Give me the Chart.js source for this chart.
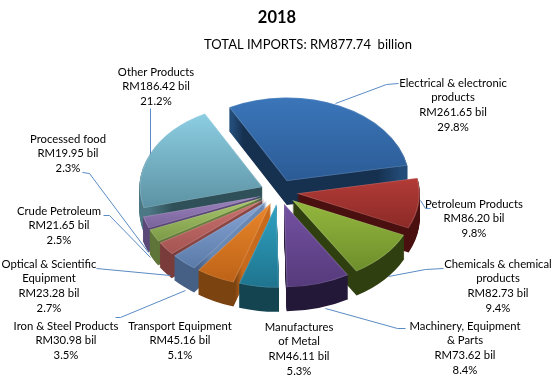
<!DOCTYPE html>
<html><head><meta charset="utf-8">
<style>html,body{margin:0;padding:0;background:#fff}canvas{display:block}</style>
<script src="https://cdn.jsdelivr.net/npm/chart.js@4"></script>
</head><body>
<canvas id="c" width="554" height="376"></canvas>
<script>
const categories = ["Electrical & electronic products","Petroleum Products","Chemicals & chemical products","Machinery, Equipment & Parts","Manufactures of Metal","Transport Equipment","Iron & Steel Products","Optical & Scientific Equipment","Crude Petroleum","Processed food","Other Products"];
const values = [261.65,86.20,82.73,73.62,46.11,45.16,30.98,23.28,21.65,19.95,186.42];
const shares = ["29.8%","9.8%","9.4%","8.4%","5.3%","5.1%","3.5%","2.7%","2.5%","2.3%","21.2%"];
const titleText = "2018";
const subtitleText = "TOTAL IMPORTS: RM877.74  billion";

const lightColors = ["#3b76ba","#b23b37","#95b83f","#7451a2","#2fa2c2","#ea862b","#88a6d6","#ca7370","#aac86e","#9c84bf","#8dcee3"];
const darkColors  = ["#2b5b95","#8b2a27","#6d8e2b","#553a7b","#1f748e","#bd6317","#5a7aa8","#a45452","#7c9947","#79639a","#5c92a3"];
const sideInner   = ["#16304f","#4a1010","#303f10","#241839","#1a6076","#c8691c","#6a88b4","#8a4644","#66803c","#5a4878","#2f5058"];
const sideOuter   = ["#234c78","#4a1010","#303f10","#241839","#134450","#7a4310","#465f85","#7a3c3a","#5e7438","#5a4878","#4c7784"];

const labelLines = [
 ["Electrical & electronic","products","RM261.65 bil","29.8%"],
 ["Petroleum Products","RM86.20 bil","9.8%"],
 ["Chemicals & chemical","products","RM82.73 bil","9.4%"],
 ["Machinery, Equipment","& Parts","RM73.62 bil","8.4%"],
 ["Manufactures","of Metal","RM46.11 bil","5.3%"],
 ["Transport Equipment","RM45.16 bil","5.1%"],
 ["Iron & Steel Products","RM30.98 bil","3.5%"],
 ["Optical & Scientific","Equipment","RM23.28 bil","2.7%"],
 ["Crude Petroleum","RM21.65 bil","2.5%"],
 ["Processed food","RM19.95 bil","2.3%"],
 ["Other Products","RM186.42 bil","21.2%"]
];
const labelCentreX = [453,474,498,465,299,180,66,49,59,68,156];
const labelTopY = [83,204,264,326,327,326,326,264,211,139,72];
const leaders = [
 [[398,83],[386,84],[335,103]],
 [[430,208],[425,208],[420,200]],
 [[443,268],[425,269],[388,276]],
 [[405,328],[397,328],[325,308]],
 [], [],
 [[115,317],[120,317],[185,290]],
 [[96,268],[170,275]],
 [[103,215],[109,215],[150,257]],
 [[82,172],[89,173],[148,252]],
 [[150,154],[150,108]]
];
const pieCentre = {x:279,y:192}, squash = 0.68, depth = 24, pieRadius = 123, explode = 18;
const fontFamily = "Lato, 'Open Sans', sans-serif";

function sliceYExtent(a){
  const pts=[a.y,a.y+Math.sin(a.startAngle)*a.outerRadius,a.y+Math.sin(a.endAngle)*a.outerRadius];
  const has=t=>{let s=a.startAngle,e=a.endAngle;while(t<s)t+=2*Math.PI;return t<=e;};
  if(has(Math.PI/2))pts.push(a.y+a.outerRadius);
  if(has(-Math.PI/2))pts.push(a.y-a.outerRadius);
  return [Math.min(...pts),Math.max(...pts)];
}
const pie3d = {
  id:'pie3d',
  beforeDatasetDraw(chart,args){
    const ctx=chart.ctx, arcs=args.meta.data;
    const order=arcs.map((a,i)=>i).sort((p,q)=>{
      const m=i=>Math.sin((arcs[i].startAngle+arcs[i].endAngle)/2);
      return m(p)-m(q);
    });
    const place=(a,dy)=>{
      const mid=(a.startAngle+a.endAngle)/2;
      ctx.translate(pieCentre.x,pieCentre.y+dy);
      ctx.scale(1,squash);
      ctx.translate(Math.cos(mid)*explode-a.x,Math.sin(mid)*explode-a.y);
    };
    order.forEach(i=>{
      const a=arcs[i], o=a.options;
      const w=ctx.createRadialGradient(a.x,a.y,0,a.x,a.y,a.outerRadius);
      w.addColorStop(0,sideInner[i]);w.addColorStop(0.75,sideInner[i]);w.addColorStop(0.95,sideOuter[i]);w.addColorStop(1,sideOuter[i]);
      a.options=Object.assign({},o,{backgroundColor:w,borderWidth:0});
      for(let d=depth;d>=1;d--){ctx.save();place(a,d);a.draw(ctx);ctx.restore();}
      ctx.save();place(a,0);
      const ext=sliceYExtent(a);
      const g=ctx.createLinearGradient(0,ext[0],0,ext[1]);
      g.addColorStop(0,lightColors[i]);g.addColorStop(1,darkColors[i]);
      a.options=Object.assign({},o,{backgroundColor:g,borderWidth:1,borderColor:"rgba(255,255,255,0.14)",borderAlign:'inner'});
      a.draw(ctx);
      ctx.restore();
      a.options=o;
    });
    return false;
  },
  afterDraw(chart){
    const ctx=chart.ctx;
    ctx.save();
    ctx.strokeStyle="#5a8ac4";ctx.lineWidth=1;
    leaders.forEach(l=>{
      if(!l.length)return;
      ctx.beginPath();
      l.forEach((p,i)=>i?ctx.lineTo(p[0]+.5,p[1]+.5):ctx.moveTo(p[0]+.5,p[1]+.5));
      ctx.stroke();
    });
    ctx.fillStyle="#000";ctx.textAlign="center";ctx.textBaseline="middle";
    ctx.font="11.3px "+fontFamily;
    labelLines.forEach((lines,i)=>lines.forEach((t,j)=>ctx.fillText(t,labelCentreX[i],labelTopY[i]+j*14.8)));
    ctx.font="13px "+fontFamily;
    ctx.fillText(subtitleText,308,45);
    ctx.restore();
  }
};
new Chart(document.getElementById('c'),{
  type:'pie',
  data:{labels:categories,datasets:[{data:values,backgroundColor:lightColors,borderWidth:0}]},
  options:{
    responsive:false,animation:false,rotation:-28,radius:pieRadius,
    layout:{padding:0},
    plugins:{
      legend:{display:false},tooltip:{enabled:false},
      title:{display:true,text:titleText,color:"#000",font:{family:fontFamily,size:16.5,weight:'bold'},padding:{top:8,bottom:4}}
    }
  },
  plugins:[pie3d]
});
</script>
</body></html>
